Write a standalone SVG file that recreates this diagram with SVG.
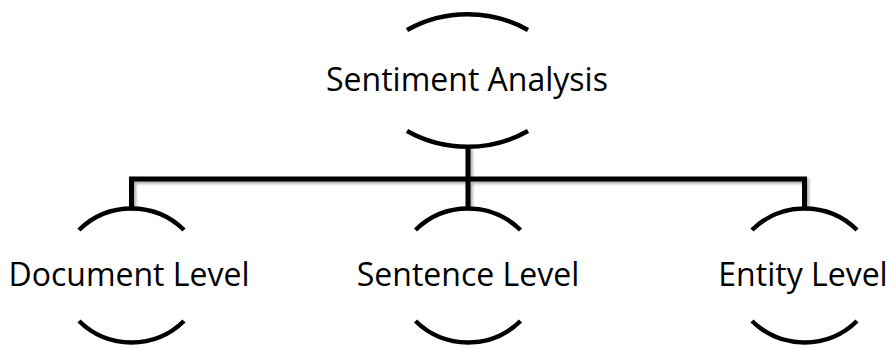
<svg xmlns="http://www.w3.org/2000/svg" width="893" height="349" viewBox="0 0 893 349">
<style>
.arc{fill:none;stroke:#000;stroke-width:4.5;stroke-linecap:butt}
.conn{fill:none;stroke:#000;stroke-width:5;stroke-linejoin:miter}
.lbl{font-family:"Open Sans","Liberation Sans",sans-serif;font-size:32px;fill:#000;text-anchor:middle}
</style>
<defs>
<filter id="sh" x="-5%" y="-20%" width="110%" height="140%">
<feDropShadow dx="2" dy="2" stdDeviation="1.5" flood-color="#000" flood-opacity="0.35"/>
</filter>
</defs>
<rect width="893" height="349" fill="#fff"/>
<g id="connectors" filter="url(#sh)">
<path class="conn" d="M468 147 V179"/>
<path class="conn" d="M131.5 208 V179 H804.5 V208"/>
<path class="conn" d="M468 179 V208"/>
</g>
<g id="sentiment-analysis">
<path class="arc" d="M407 30 A124 124 0 0 1 528 30"/>
<path class="arc" d="M407 131 A124 124 0 0 0 528 131"/>
<text class="lbl" x="467" y="91">Sentiment Analysis</text>
</g>
<g id="document-level">
<path class="arc" d="M79 230 A75 75 0 0 1 184 230"/>
<path class="arc" d="M79 321 A75 75 0 0 0 184 321"/>
<text class="lbl" x="129" y="286">Document Level</text>
</g>
<g id="sentence-level">
<path class="arc" d="M415.5 230 A75 75 0 0 1 520.5 230"/>
<path class="arc" d="M415.5 321 A75 75 0 0 0 520.5 321"/>
<text class="lbl" x="468" y="286">Sentence Level</text>
</g>
<g id="entity-level">
<path class="arc" d="M752 230 A75 75 0 0 1 857 230"/>
<path class="arc" d="M752 321 A75 75 0 0 0 857 321"/>
<text class="lbl" x="803" y="286">Entity Level</text>
</g>
</svg>
